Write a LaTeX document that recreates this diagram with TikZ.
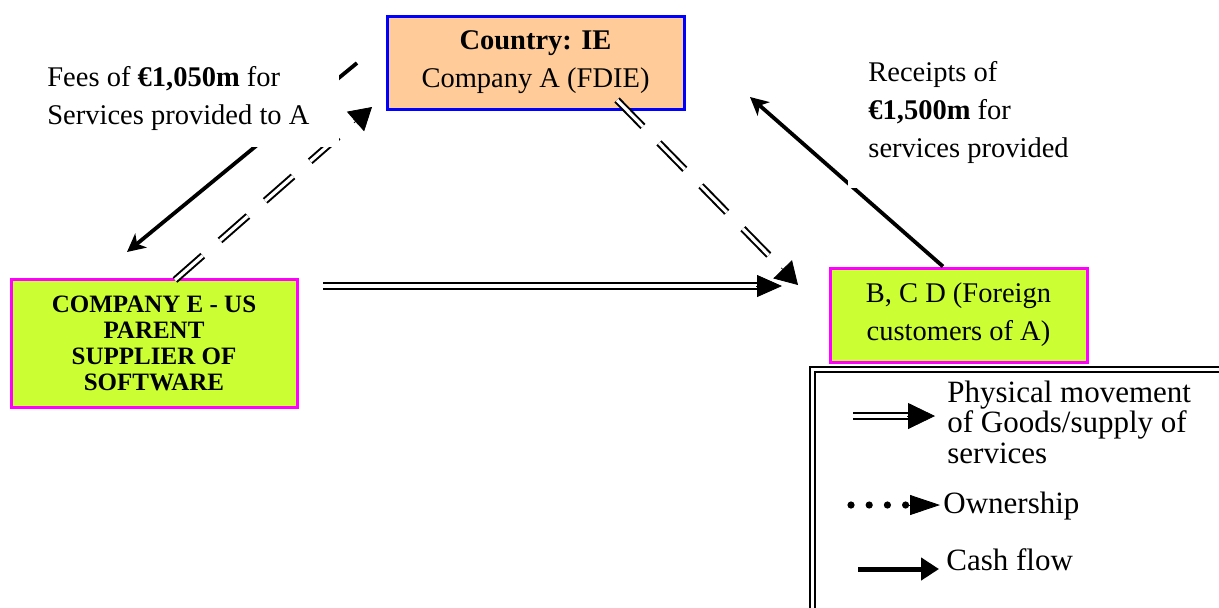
\documentclass[tikz,border=0pt]{standalone}
\usepackage{fontspec}
\setmainfont{Liberation Serif}
\usetikzlibrary{arrows.meta,calc}
\definecolor{peach}{HTML}{FFCC99}
\definecolor{limefill}{HTML}{CCFF33}
\definecolor{boxblue}{HTML}{0000FF}
\definecolor{boxmagenta}{HTML}{FF00FF}
\begin{document}
\begin{tikzpicture}[x=0.5pt,y=-0.5pt,
  box/.style={draw, line width=1.5pt, inner sep=0pt, align=center},
  mainfont/.style={font=\fontsize{14.25pt}{19pt}\selectfont},
  txt/.style={mainfont, align=left, inner sep=0pt, anchor=north west},
  legtxt/.style={font=\fontsize{15.5pt}{15.25pt}\selectfont, align=left, inner sep=0pt},
  cash/.style={line width=1.9pt, -{Stealth[length=9pt,width=9pt,inset=2.5pt]}},
  own/.style={double, line width=1pt, double distance=1.6pt, dash pattern=on 18.5pt off 11.5pt, shorten >=11pt},
  ownhead/.style={line width=0.4pt, -{Triangle[length=11pt,width=13pt]}},
  phys/.style={double, line width=0.95pt, double distance=2pt, shorten >=12pt},
  physhead/.style={line width=0.4pt, -{Triangle[length=12.5pt,width=11pt]}},
]
\clip (0,0) rectangle (1219,607);
\fill[white] (0,0) rectangle (1219,607);

% boxes
\node[box, draw=boxblue, fill=peach, minimum width=148.5pt, minimum height=46.5pt, mainfont] (A) at (535.5,62.5) {\textbf{Country: IE}\\Company A (FDIE)};
\node[box, draw=boxmagenta, fill=limefill, minimum width=143pt, minimum height=64pt, font=\bfseries\fontsize{12.5pt}{13pt}\selectfont] (E) at (154,343) {COMPANY E - US\\PARENT\\SUPPLIER OF\\SOFTWARE};
\node[box, draw=boxmagenta, fill=limefill, minimum width=128.5pt, minimum height=47pt, mainfont] (B) at (958.5,315) {B, C D (Foreign\\customers of A)};

% connector end points
\coordinate (feeS) at ($(A.west)+(-28.5,0.5)$);
\coordinate (feeT) at ($(E.north west)+(117.5,-25.5)$);
\coordinate (rcS) at ($(B.north west)+(114.5,0)$);
\coordinate (rcT) at ($(A.south east)+(64.5,-13.5)$);
\coordinate (ownES) at ($(E.north west)+(165.5,2.5)$);
\coordinate (ownET) at ($(A.south west)+(-13.5,-3.5)$);
\coordinate (ownAS) at ($(A.south east)+(-68.5,-10.5)$);
\coordinate (ownAT) at ($(B.north west)+(-30.5,18.5)$);
\coordinate (physS) at ($(E.north east)+(24.5,8.5)$);
\coordinate (physT) at ($(B.north west)+(-46.5,19.5)$);

% ownership
\draw[own] (ownES) -- (ownET);
\draw[ownhead] ($(ownET)!12pt!(ownES)$) -- (ownET);
\draw[own] (ownAS) -- (ownAT);
\draw[ownhead] ($(ownAT)!12pt!(ownAS)$) -- (ownAT);
% physical
\draw[phys] (physS) -- (physT);
\draw[physhead] ($(physT)!13pt!(physS)$) -- (physT);
% cash
\draw[cash] (feeS) -- (feeT);
\draw[cash] (rcS) -- (rcT);

% labels
\node[txt, fill=white, inner xsep=15pt, inner ysep=8pt] (fees) at (17,50.5) {Fees of \textbf{€1,050m} for\\Services provided to A};
\node[txt, fill=white, inner xsep=10pt, inner ysep=12pt] (rec) at (848,37.5) {Receipts of\\\textbf{€1,500m} for\\services provided};

% legend
\draw[double, line width=1pt, double distance=1.5pt] (812.5,369.5) rectangle (1240,630);
\coordinate (l1a) at (853,416);
\coordinate (l1b) at (935,416);
\draw[double, line width=1pt, double distance=1.6pt, shorten >=13pt] (l1a) -- (l1b);
\draw[line width=0.4pt, -{Triangle[length=13.5pt,width=13pt]}] ($(l1b)!14pt!(l1a)$) -- (l1b);
\node[legtxt, anchor=north west] (l1t) at (947,380.5) {Physical movement\\of Goods/supply of\\services};
\coordinate (l2a) at (851,505);
\coordinate (l2m) at (906,505);
\coordinate (l2b) at (940,505);
\draw[line width=3.6pt, line cap=round, dash pattern=on 0pt off 9.1pt] (l2a) -- (l2m);
\draw[line width=0.4pt, -{Triangle[length=15pt,width=10pt]}] (l2m) -- (l2b);
\node[legtxt, anchor=base west] (l2t) at (943,513) {Ownership};
\coordinate (l3a) at (858,569);
\coordinate (l3b) at (939,569);
\draw[line width=2.5pt, -{Triangle[length=9pt,width=11pt]}] (l3a) -- (l3b);
\node[legtxt, anchor=base west] (l3t) at (946,570) {Cash flow};
\end{tikzpicture}
\end{document}
